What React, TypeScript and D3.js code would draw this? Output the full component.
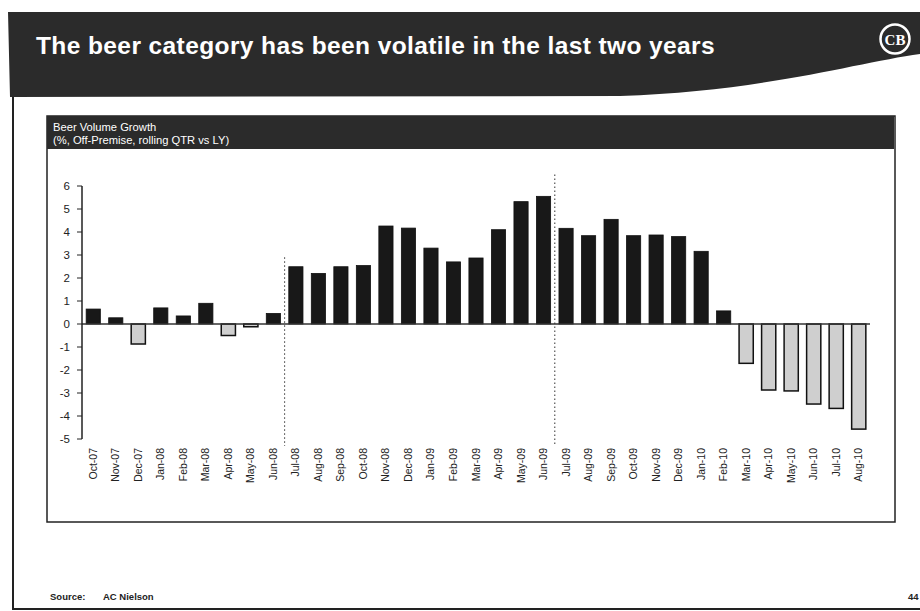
import React from "react";
import * as d3 from "d3";

// Monthly periods, Oct-07 through Aug-10
const months: string[] = [
  "Oct-07", "Nov-07", "Dec-07", "Jan-08", "Feb-08", "Mar-08", "Apr-08", "May-08", "Jun-08",
  "Jul-08", "Aug-08", "Sep-08", "Oct-08", "Nov-08", "Dec-08", "Jan-09", "Feb-09", "Mar-09",
  "Apr-09", "May-09", "Jun-09", "Jul-09", "Aug-09", "Sep-09", "Oct-09", "Nov-09", "Dec-09",
  "Jan-10", "Feb-10", "Mar-10", "Apr-10", "May-10", "Jun-10", "Jul-10", "Aug-10",
];

// Beer volume growth, % vs last year (off-premise, rolling quarter)
const growth: number[] = [
  0.65, 0.27, -0.87, 0.7, 0.35, 0.9, -0.5, -0.12, 0.46,
  2.49, 2.2, 2.49, 2.54, 4.26, 4.17, 3.3, 2.7, 2.87,
  4.1, 5.32, 5.55, 4.16, 3.84, 4.55, 3.84, 3.87, 3.8,
  3.16, 0.57, -1.71, -2.87, -2.91, -3.48, -3.67, -4.57,
];

// Period separators are drawn before these months
const separators: string[] = ["Jul-08", "Jul-09"];
const separatorTops: number[] = [2.9, 6.5];

const yTicks: number[] = [-5, -4, -3, -2, -1, 0, 1, 2, 3, 4, 5, 6];

const title = "The beer category has been volatile in the last two years";
const chartTitle = "Beer Volume Growth";
const chartSubtitle = "(%, Off-Premise, rolling QTR vs LY)";
const sourceLabel = "Source:";
const sourceName = "AC Nielson";
const pageNumber = "44";

const FONT = "'Liberation Sans', Arial, sans-serif";

export default function App() {
  const W = 920;
  const H = 611;

  const x = d3
    .scaleBand<string>()
    .domain(months)
    .range([82, 870])
    .paddingInner(0.37)
    .paddingOuter(0.185);
  const y = d3.scaleLinear().domain([-5, 6]).range([439, 186]);

  const step = x.step();
  const bw = x.bandwidth();
  const y0 = y(0);

  return (
    <svg
      width={W}
      height={H}
      viewBox={`0 0 ${W} ${H}`}
      style={{ position: "absolute", left: 0, top: 0, background: "#fff" }}
    >
      {/* slide banner */}
      <path
        d="M 8 12 L 920 12 L 920 54 C 860 62, 760 92, 620 96 L 10 97 Z"
        fill="#2b2b2b"
      />
      <text
        x={36}
        y={54}
        fill="#fff"
        fontFamily={FONT}
        fontWeight="bold"
        fontSize={24.5}
        letterSpacing={0.4}
      >
        {title}
      </text>
      {/* logo */}
      <g transform="translate(895,39)">
        <circle r={14.5} fill="#2b2b2b" stroke="#fff" strokeWidth={2.5} />
        <text
          y={5.5}
          textAnchor="middle"
          fill="#fff"
          fontFamily="'Liberation Serif', serif"
          fontWeight="bold"
          fontSize={15}
        >
          CB
        </text>
      </g>

      {/* slide border */}
      <path d="M 13 97 L 13 609 L 920 609" fill="none" stroke="#222" strokeWidth={2} />

      {/* chart frame */}
      <rect x={47} y={116} width={848} height={406} fill="#fff" stroke="#222" strokeWidth={1.5} />
      <rect x={47} y={116} width={847} height={33} fill="#2b2b2b" />
      <text x={53} y={131} fill="#fff" fontFamily={FONT} fontSize={11.2}>
        {chartTitle}
      </text>
      <text x={53} y={144} fill="#fff" fontFamily={FONT} fontSize={11.2}>
        {chartSubtitle}
      </text>

      {/* period separators */}
      {separators.map((m, i) => {
        const sx = (x(m) as number) - (step - bw) / 2;
        return (
          <line
            key={m}
            x1={sx}
            x2={sx}
            y1={y(separatorTops[i])}
            y2={446}
            stroke="#333"
            strokeWidth={1}
            strokeDasharray="1.5,2.5"
          />
        );
      })}

      {/* bars */}
      {months.map((m, i) => {
        const v = growth[i];
        const top = v >= 0 ? y(v) : y0;
        const h = Math.abs(y(v) - y0);
        return (
          <rect
            key={m}
            x={x(m)}
            y={top}
            width={bw}
            height={h}
            fill={v >= 0 ? "#181818" : "#cfcfcf"}
            stroke="#111"
            strokeWidth={v >= 0 ? 0.8 : 1.5}
          />
        );
      })}

      {/* zero line */}
      <line x1={82} x2={870} y1={y0} y2={y0} stroke="#333" strokeWidth={1.5} />

      {/* y axis */}
      <line x1={82} x2={82} y1={y(6)} y2={y(-5)} stroke="#222" strokeWidth={1.5} />
      {yTicks.map((t) => (
        <g key={t}>
          <line x1={77} x2={82} y1={y(t)} y2={y(t)} stroke="#222" strokeWidth={1} />
          <text
            x={70}
            y={y(t)}
            dy="0.35em"
            textAnchor="end"
            fontFamily={FONT}
            fontSize={11.5}
            fill="#222"
          >
            {t}
          </text>
        </g>
      ))}

      {/* x labels */}
      {months.map((m) => (
        <text
          key={m}
          transform={`translate(${(x(m) as number) + bw / 2 + 3.5},448) rotate(-90)`}
          textAnchor="end"
          fontFamily={FONT}
          fontSize={10.5}
          fill="#222"
        >
          {m}
        </text>
      ))}

      {/* footer */}
      <text x={50} y={600} fontFamily={FONT} fontWeight="bold" fontSize={9.5} fill="#222">
        {sourceLabel}
      </text>
      <text x={103} y={600} fontFamily={FONT} fontWeight="bold" fontSize={9.5} fill="#222">
        {sourceName}
      </text>
      <text x={908} y={600} fontFamily={FONT} fontWeight="bold" fontSize={9.5} fill="#222">
        {pageNumber}
      </text>
    </svg>
  );
}
